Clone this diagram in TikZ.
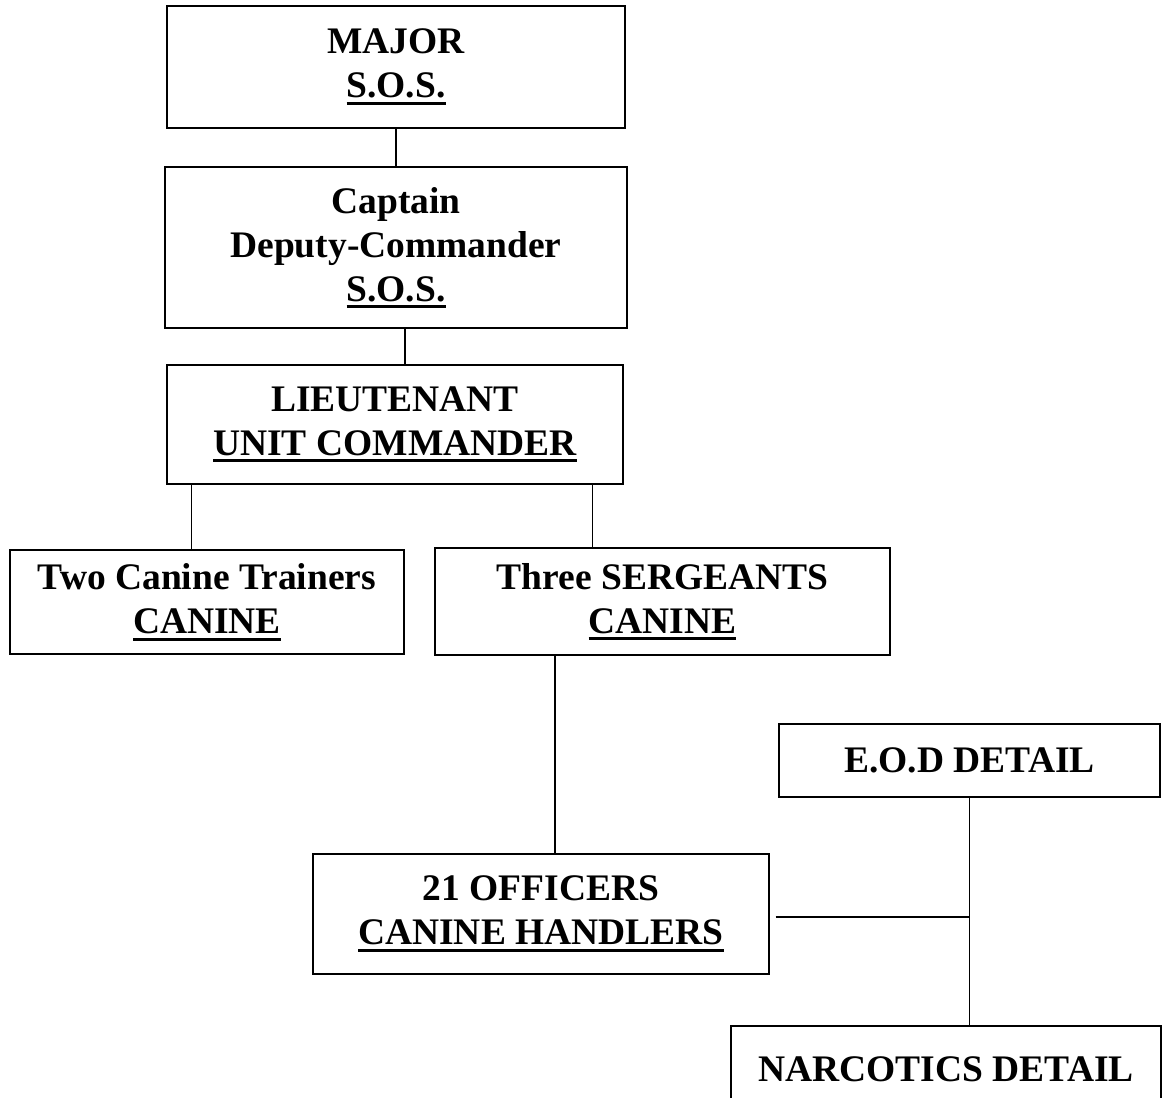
\documentclass[tikz,border=0pt]{standalone}
\usepackage{fontspec}
\setmainfont{Liberation Serif}
\usepackage{tikz}

\newcommand{\undl}[1]{\setbox0\hbox{#1}\rlap{\rule[-7pt]{\wd0}{3pt}}\box0}

\tikzset{unit/.style = {draw, line width = 1.3pt, inner sep = 0pt, align = center,
  font = \fontsize{37.5}{44}\selectfont\bfseries}}

\begin{document}
\begin{tikzpicture}[x = 1pt, y = -1pt, line width = 1.3pt]
  \useasboundingbox (0, 0) rectangle (1169, 1097);
  \node[unit, minimum width = 458pt, minimum height = 122pt] at (396, 67) (major) {MAJOR\\\undl{S.O.S.}};
  \node[unit, minimum width = 462pt, minimum height = 161pt] at (396, 247.5) (captain) {Captain\\Deputy-Commander\\\undl{S.O.S.}};
  \node[unit, minimum width = 456pt, minimum height = 119pt] at (395, 424.5) (lieut) {LIEUTENANT\\\undl{UNIT COMMANDER}};
  \node[unit, minimum width = 394pt, minimum height = 104pt] at (207, 602) (trainers) {Two Canine Trainers\\\undl{CANINE}};
  \node[unit, minimum width = 455pt, minimum height = 107pt] at (662.5, 601.5) (sergeants) {Three SERGEANTS\\\undl{CANINE}};
  \node[unit, minimum width = 456pt, minimum height = 120pt] at (541, 914) (officers) {21 OFFICERS\\\undl{CANINE HANDLERS}};
  \node[unit, minimum width = 381pt, minimum height = 73pt] at (969.5, 760.5) (eod) {E.O.D DETAIL};
  \node[unit, minimum width = 430pt, minimum height = 86pt] at (946, 1069) (narc) {NARCOTICS DETAIL};
  \draw (major) -- (captain);
  \draw ([xshift = 9pt]captain.south) -- ([xshift = 10pt]lieut.north);
  \draw ([xshift = 25pt]lieut.south west) -- ([xshift = 25pt]lieut.south west |- trainers.north);
  \draw ([xshift = -31pt]lieut.south east) -- ([xshift = -31pt]lieut.south east |- sergeants.north);
  \draw ([xshift = 14pt]officers.north) -- ([xshift = 14pt]officers.north |- sergeants.south);
  \draw (eod.south) -- (eod.south |- narc.north);
  \draw ([xshift = 6pt, yshift = -3pt]officers.east) -- ([yshift = -3pt]officers.east -| eod.south);
\end{tikzpicture}
\end{document}
